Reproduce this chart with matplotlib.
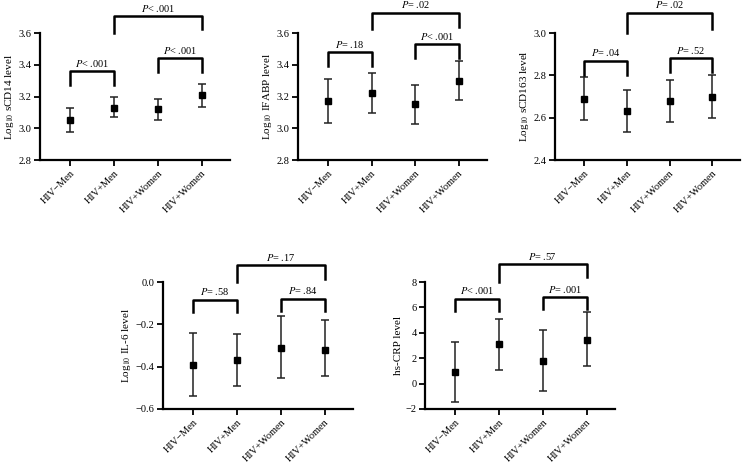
import matplotlib.pyplot as plt
import numpy as np

plt.rcParams['font.family'] = ['Liberation Serif', 'DejaVu Serif']
plt.rcParams['mathtext.fontset'] = 'stix'

groups = ['HIV\u2212Men', 'HIV+Men', 'HIV+Women', 'HIV+Women']

# mean, lower and upper limits
scd14_mean = [3.05, 3.13, 3.12, 3.21]
scd14_lo = [2.975, 3.07, 3.055, 3.135]
scd14_hi = [3.125, 3.195, 3.185, 3.28]

ifabp_mean = [3.17, 3.22, 3.15, 3.30]
ifabp_lo = [3.035, 3.095, 3.025, 3.175]
ifabp_hi = [3.31, 3.345, 3.275, 3.425]

scd163_mean = [2.69, 2.63, 2.68, 2.70]
scd163_lo = [2.59, 2.53, 2.58, 2.60]
scd163_hi = [2.79, 2.73, 2.78, 2.80]

il6_mean = [-0.39, -0.37, -0.31, -0.32]
il6_lo = [-0.54, -0.49, -0.455, -0.445]
il6_hi = [-0.24, -0.245, -0.16, -0.18]

crp_mean = [0.9, 3.1, 1.8, 3.45]
crp_lo = [-1.45, 1.1, -0.6, 1.35]
crp_hi = [3.25, 5.1, 4.2, 5.6]

# p-values: men comparison, women comparison, HIV+ men vs HIV+ women
p_scd14 = ['< .001', '< .001', '< .001']
p_ifabp = ['= .18', '< .001', '= .02']
p_scd163 = ['= .04', '= .52', '= .02']
p_il6 = ['= .58', '= .84', '= .17']
p_crp = ['< .001', '= .001', '= .57']

panels = [
    # data, ylabel, ylim, yticks, tick format, pvals, axes rect (px), bracket levels (axis fractions)
    (scd14_mean, scd14_lo, scd14_hi, r'Log$_{10}$ sCD14 level', (2.8, 3.6), np.arange(2.8, 3.61, 0.2), '%.1f',
     p_scd14, (40, 33, 190), [(0.70, 0.59), (0.80, 0.69), (1.13, 1.00, 1.03)]),
    (ifabp_mean, ifabp_lo, ifabp_hi, r'Log$_{10}$ IFABP level', (2.8, 3.6), np.arange(2.8, 3.61, 0.2), '%.1f',
     p_ifabp, (298, 33, 189), [(0.85, 0.74), (0.91, 0.80), (1.16, 1.03, 1.05)]),
    (scd163_mean, scd163_lo, scd163_hi, r'Log$_{10}$ sCD163 level', (2.4, 3.0), np.arange(2.4, 3.01, 0.2), '%.1f',
     p_scd163, (555, 33, 185), [(0.78, 0.67), (0.80, 0.69), (1.16, 1.00, 1.03)]),
    (il6_mean, il6_lo, il6_hi, r'Log$_{10}$ IL-6 level', (-0.6, 0.0), np.arange(-0.6, 0.01, 0.2), '%.1f',
     p_il6, (163, 282, 190), [(0.86, 0.76), (0.87, 0.77), (1.13, 1.00, 1.02)]),
    (crp_mean, crp_lo, crp_hi, 'hs-CRP level', (-2, 8), np.arange(-2, 8.1, 2), '%d',
     p_crp, (425, 282, 190), [(0.87, 0.77), (0.88, 0.79), (1.14, 1.00, 1.04)]),
]

W, H = 745, 465
fig = plt.figure(figsize=(W / 100, H / 100), dpi=100)

for mean, lo, hi, ylabel, ylim, yticks, fmt, pvals, rect, brk in panels:
    x0, y0, w = rect
    ax = fig.add_axes([x0 / W, 1 - (y0 + 127) / H, w / W, 127 / H])
    x = np.arange(len(groups))
    mean = np.array(mean)
    yerr = [mean - np.array(lo), np.array(hi) - mean]
    ax.errorbar(x, mean, yerr=yerr, fmt='s', color='black', ms=4.5,
                ecolor='#222222', elinewidth=1.1, capsize=3, capthick=1.1)
    ax.set_xlim(-0.69, 3.65)
    ax.set_ylim(*ylim)
    ax.set_yticks(yticks)
    labels = [(fmt % (0 if abs(v) < 1e-9 else v)).replace('-', '\u2212') for v in yticks]
    ax.set_yticklabels(labels)
    ax.set_xticks(x)
    ax.set_xticklabels(groups, rotation=45, ha='right', rotation_mode='anchor', fontsize=7.5)
    ax.set_ylabel(ylabel, fontsize=8, labelpad=2)
    ax.tick_params(axis='y', labelsize=7.5, width=1.3, length=4, direction='out', pad=2)
    ax.tick_params(axis='x', width=1.3, length=4, direction='out', pad=2)
    for s in ['top', 'right']:
        ax.spines[s].set_visible(False)
    for s in ['left', 'bottom']:
        ax.spines[s].set_linewidth(1.6)

    trans = ax.get_xaxis_transform()
    pairs = [(0, 1), (2, 3)]
    for (a, b), (top, leg), p in zip(pairs, brk[:2], pvals[:2]):
        ax.plot([a, a, b, b], [leg, top, top, leg], color='black', lw=1.8,
                transform=trans, clip_on=False)
        ax.text((a + b) / 2, top + 0.02, r'$P$' + p, transform=trans,
                ha='center', va='bottom', fontsize=7.5)
    top, leg_l, leg_r = brk[2]
    ax.plot([1, 1, 3, 3], [leg_l, top, top, leg_r], color='black', lw=1.8,
            transform=trans, clip_on=False)
    ax.text(2, top + 0.02, r'$P$' + pvals[2], transform=trans,
            ha='center', va='bottom', fontsize=7.5)

fig.savefig('out.png', dpi=100)
